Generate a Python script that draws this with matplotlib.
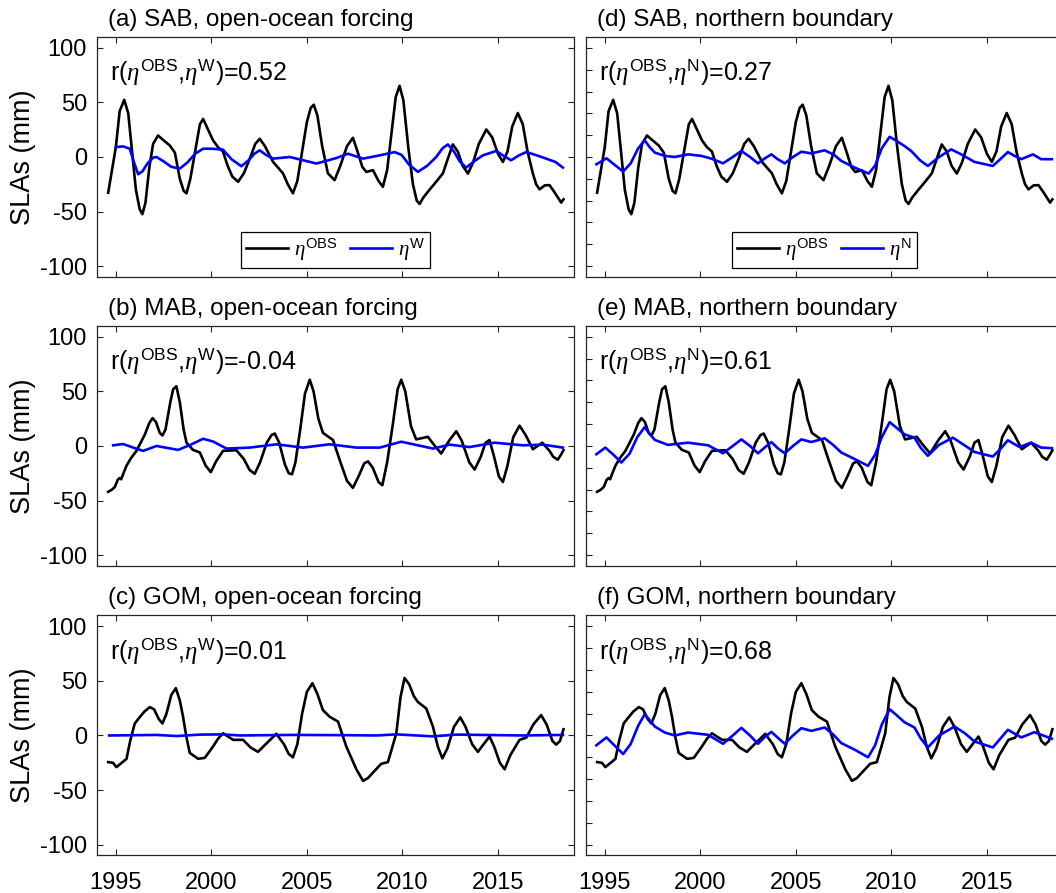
#!/usr/bin/env python3
'''SLA panels: observed vs open-ocean (W) and northern boundary (N) forcing'''
import matplotlib
matplotlib.use('Agg')
import matplotlib.pyplot as plt

plt.rcParams['font.family'] = ['Liberation Sans', 'DejaVu Sans']
plt.rcParams['mathtext.fontset'] = 'custom'
plt.rcParams['mathtext.rm'] = 'Liberation Sans'
plt.rcParams['mathtext.it'] = 'Liberation Serif:italic'
plt.rcParams['mathtext.bf'] = 'Liberation Sans:bold'
plt.rcParams['axes.unicode_minus'] = False

# observed SLA (same curve in both columns)
sab_obs_t = [1994.60, 1995.00, 1995.20, 1995.44, 1995.65, 1995.85, 1996.05, 1996.25, 1996.39,
             1996.55, 1996.75, 1996.95, 1997.21, 1997.45, 1997.82, 1998.09, 1998.35, 1998.55,
             1998.70, 1998.90, 1999.15, 1999.40, 1999.57, 1999.75, 2000.09, 2000.35, 2000.61,
             2000.85, 2001.10, 2001.40, 2001.70, 2002.00, 2002.30, 2002.53, 2002.80, 2003.23,
             2003.75, 2004.00, 2004.27, 2004.50, 2004.75, 2005.00, 2005.20, 2005.36, 2005.55,
             2005.80, 2006.10, 2006.45, 2006.75, 2007.10, 2007.41, 2007.65, 2007.90, 2008.11,
             2008.46, 2008.75, 2008.98, 2009.20, 2009.45, 2009.65, 2009.85, 2010.05, 2010.30,
             2010.55, 2010.75, 2010.90, 2011.10, 2011.42, 2011.80, 2012.12, 2012.35, 2012.64,
             2012.90, 2013.15, 2013.43, 2013.70, 2014.00, 2014.39, 2014.70, 2015.00, 2015.26,
             2015.50, 2015.75, 2016.04, 2016.30, 2016.55, 2016.83, 2017.00, 2017.18, 2017.45,
             2017.70, 2017.95, 2018.31, 2018.43]
sab_obs = [-32.7, 9.0, 42.0, 52.4, 40.0, 5.0, -30.0, -48.0, -52.4,
           -42.0, -10.0, 12.0, 19.7, 16.0, 10.6, 4.0, -20.0, -31.0,
           -33.3, -20.0, 5.0, 30.0, 34.9, 28.0, 15.2, 9.0, 5.0,
           -8.0, -18.0, -22.7, -15.0, -2.0, 12.0, 16.7, 10.0, -4.5,
           -15.0, -25.0, -33.3, -22.0, 5.0, 32.0, 45.0, 47.9, 38.0,
           10.0, -15.0, -21.2, -8.0, 10.0, 17.6, 5.0, -9.0, -13.7,
           -12.1, -22.0, -27.3, -12.0, 25.0, 55.0, 65.2, 52.0, 10.0,
           -25.0, -40.0, -43.0, -37.0, -30.0, -22.0, -15.0, -3.0, 11.5,
           5.0, -8.0, -15.2, -5.0, 12.0, 25.2, 18.0, 3.0, -4.5,
           5.0, 28.0, 40.3, 30.0, 5.0, -15.2, -25.0, -29.7, -26.0,
           -25.8, -32.0, -41.8, -38.8]

mab_obs_t = [1994.60, 1994.80, 1994.95, 1995.10, 1995.20, 1995.28, 1995.40, 1995.56, 1995.80,
             1996.08, 1996.30, 1996.52, 1996.75, 1996.92, 1997.10, 1997.30, 1997.44, 1997.60,
             1997.85, 1998.00, 1998.17, 1998.35, 1998.55, 1998.70, 1999.04, 1999.40, 1999.70,
             1999.97, 2000.25, 2000.61, 2001.31, 2001.70, 2002.00, 2002.27, 2002.55, 2002.90,
             2003.15, 2003.32, 2003.55, 2003.85, 2004.05, 2004.22, 2004.40, 2004.65, 2004.90,
             2005.15, 2005.35, 2005.60, 2005.84, 2006.37, 2006.70, 2007.10, 2007.41, 2007.70,
             2008.00, 2008.20, 2008.45, 2008.75, 2008.95, 2009.20, 2009.50, 2009.75, 2009.94,
             2010.15, 2010.45, 2010.72, 2011.33, 2011.70, 2012.03, 2012.45, 2012.82, 2013.10,
             2013.50, 2013.78, 2014.10, 2014.35, 2014.56, 2014.80, 2015.05, 2015.26, 2015.50,
             2015.80, 2016.13, 2016.45, 2016.83, 2017.32, 2017.70, 2017.90, 2018.13, 2018.30,
             2018.43]
mab_obs = [-42.0, -40.0, -37.5, -31.0, -29.4, -30.5, -25.0, -18.0, -11.0,
           -4.5, 3.0, 10.5, 21.0, 25.5, 22.0, 12.0, 9.6, 15.0,
           40.0, 52.0, 54.7, 40.0, 15.0, 3.0, -3.6, -6.0, -18.0,
           -24.0, -14.0, -4.5, -3.9, -12.0, -22.0, -25.5, -15.0, 3.0,
           10.0, 11.4, 3.0, -17.0, -25.0, -26.0, -15.0, 15.0, 48.0,
           60.7, 50.0, 25.0, 12.0, 5.4, -12.0, -32.0, -38.4, -28.0,
           -16.0, -14.1, -20.0, -33.0, -36.0, -15.0, 20.0, 52.0, 60.7,
           50.0, 18.0, 6.0, 8.4, 0.0, -6.9, 5.0, 13.5, 5.0,
           -15.0, -21.6, -10.0, 3.0, 5.4, -10.0, -28.0, -33.0, -18.0,
           8.0, 18.6, 10.0, -3.0, 3.0, -4.5, -10.0, -12.6, -8.0,
           -3.9]

gom_obs_t = [1994.60, 1994.85, 1995.03, 1995.38, 1995.56, 1995.75, 1995.99, 1996.26, 1996.50,
             1996.78, 1997.00, 1997.25, 1997.44, 1997.65, 1997.90, 1998.14, 1998.35, 1998.52,
             1998.70, 1998.87, 1999.31, 1999.66, 2000.09, 2000.35, 2000.61, 2001.14, 2001.66,
             2002.05, 2002.44, 2002.90, 2003.40, 2003.80, 2004.05, 2004.27, 2004.50, 2004.75,
             2005.00, 2005.29, 2005.55, 2005.84, 2006.19, 2006.63, 2007.06, 2007.59, 2007.94,
             2008.20, 2008.46, 2008.89, 2009.24, 2009.45, 2009.68, 2009.90, 2010.11, 2010.35,
             2010.60, 2010.81, 2011.25, 2011.60, 2011.85, 2012.09, 2012.35, 2012.70, 2013.03,
             2013.30, 2013.65, 2013.95, 2014.25, 2014.56, 2014.80, 2015.10, 2015.35, 2015.65,
             2016.13, 2016.48, 2016.85, 2017.26, 2017.55, 2017.85, 2018.05, 2018.25, 2018.43]
gom_obs = [-24.4, -25.0, -29.0, -24.0, -21.4, -5.0, 11.0, 17.0, 22.0,
           26.0, 24.0, 15.0, 11.0, 20.0, 37.0, 43.4, 32.0, 17.0,
           -2.0, -16.0, -21.4, -20.5, -10.0, -3.0, 2.0, -4.0, -4.0,
           -11.0, -15.0, -7.0, 1.5, -8.0, -17.0, -20.0, -8.0, 20.0,
           40.0, 47.9, 38.0, 23.2, 17.2, 12.7, -10.0, -31.0, -41.6,
           -39.0, -34.0, -26.0, -24.4, -12.0, 2.0, 35.0, 52.7, 47.0,
           36.0, 30.7, 24.7, 8.0, -10.0, -21.0, -12.0, 8.0, 16.6,
           8.0, -8.0, -15.0, -8.0, -1.0, -10.0, -25.0, -31.0, -18.0,
           -4.0, -2.0, 10.0, 18.7, 10.0, -5.0, -8.4, -5.0, 5.7]

# open-ocean forcing (W)
sab_w_t = [1995.00, 1995.38, 1995.73, 1995.95, 1996.17, 1996.40, 1996.65, 1996.95, 1997.13,
           1997.50, 1997.90, 1998.35, 1998.75, 1999.15, 1999.57, 2000.10, 2000.61, 2001.05,
           2001.57, 2001.95, 2002.25, 2002.53, 2002.85, 2003.23, 2004.10, 2005.50, 2006.54,
           2007.15, 2007.94, 2008.81, 2009.59, 2009.95, 2010.35, 2010.81, 2011.30, 2011.77,
           2012.10, 2012.38, 2012.70, 2013.00, 2013.34, 2013.75, 2014.21, 2014.91, 2015.30,
           2015.69, 2016.10, 2016.48, 2016.95, 2017.52, 2018.00, 2018.40]
sab_w = [9.1, 9.7, 7.6, -5.0, -15.8, -13.0, -6.0, -0.6, 0.0,
         -4.0, -9.0, -10.6, -5.0, 3.0, 7.6, 7.5, 6.7, -2.0,
         -8.5, -3.0, 3.0, 6.1, 2.0, -1.5, 0.0, -6.0, -1.0,
         3.0, -1.5, 1.5, 4.5, 2.0, -7.0, -13.6, -8.0, 0.0,
         8.0, 11.5, 5.0, -4.0, -9.7, -4.0, 1.5, 5.5, 1.0,
         -3.0, 1.5, 4.5, 2.0, -1.5, -4.5, -9.7]

mab_w_t = [1994.86, 1995.38, 1995.91, 1996.43, 1997.13, 1998.26, 1998.90, 1999.57, 2000.10,
           2000.79, 2002.00, 2003.40, 2004.80, 2006.19, 2007.59, 2008.81, 2009.94, 2011.60,
           2012.47, 2013.51, 2014.82, 2016.30, 2017.35, 2018.40]
mab_w = [0.6, 1.8, -1.5, -4.5, 0.0, -3.6, 1.0, 6.6, 4.0,
         -2.4, -1.5, 1.5, -1.5, 1.5, -1.5, -1.5, 3.9, -2.4,
         1.2, -1.0, 3.0, 0.6, 1.2, -1.5]

gom_w_t = [1994.65, 1997.13, 1998.18, 1999.40, 2000.61, 2001.48, 2004.10, 2006.89, 2008.63,
           2009.68, 2011.60, 2012.82, 2016.30, 2018.40]
gom_w = [0.0, 0.5, -0.5, 0.8, 1.0, 0.0, 0.5, 0.3, 0.0,
         1.0, -0.8, 0.8, 0.0, 0.5]

# northern boundary (N)
sab_n_t = [1994.56, 1995.09, 1995.50, 1995.96, 1996.35, 1996.75, 1997.09, 1997.35, 1997.62,
           1998.14, 1998.66, 1999.36, 2000.06, 2000.58, 2001.19, 2001.70, 2002.15, 2002.60,
           2003.02, 2003.40, 2003.72, 2004.05, 2004.42, 2004.85, 2005.29, 2005.81, 2006.51,
           2007.00, 2007.38, 2008.08, 2008.81, 2009.15, 2009.50, 2009.91, 2010.25, 2010.69,
           2011.04, 2011.50, 2011.91, 2012.50, 2013.13, 2013.66, 2014.35, 2015.31, 2015.70,
           2016.10, 2016.45, 2016.80, 2017.41, 2017.84, 2018.40]
sab_n = [-6.7, -1.2, -7.0, -13.3, -6.0, 8.0, 15.2, 9.0, 4.0,
         1.0, 0.0, 2.4, 1.0, -1.5, -5.8, 0.0, 5.5, 0.0,
         -5.8, -1.0, 2.4, -2.0, -5.8, 0.0, 4.8, 3.3, 6.1,
         2.0, -3.6, -9.7, -15.2, -8.0, 8.0, 18.5, 15.0, 10.0,
         5.5, -3.0, -8.2, 0.0, 7.0, 2.4, -4.5, -8.2, -2.0,
         4.5, 1.0, -2.0, 2.4, -2.0, -2.0]

mab_n_t = [1994.56, 1995.03, 1995.45, 1995.87, 1996.30, 1996.70, 1997.09, 1997.35, 1997.62,
           1998.31, 1999.36, 2000.41, 2001.19, 2001.70, 2002.15, 2002.60, 2003.02, 2003.40,
           2003.72, 2004.05, 2004.42, 2004.85, 2005.29, 2005.81, 2006.51, 2006.95, 2007.38,
           2008.08, 2008.78, 2009.15, 2009.50, 2009.91, 2010.25, 2010.69, 2011.21, 2011.55,
           2011.91, 2012.50, 2013.22, 2013.83, 2014.35, 2015.31, 2015.70, 2016.10, 2016.71,
           2017.32, 2017.84, 2018.40]
mab_n = [-7.6, -1.5, -8.0, -15.2, -7.0, 8.0, 17.3, 11.0, 5.5,
         1.0, 3.0, 0.6, -6.7, 0.0, 6.0, 0.0, -6.7, -1.0,
         3.6, -2.0, -6.7, 0.0, 6.0, 3.6, 7.0, 1.0, -6.0,
         -12.0, -18.2, -8.0, 8.0, 21.8, 17.0, 10.6, 7.6, -2.0,
         -9.0, 1.0, 7.6, 0.6, -5.5, -9.7, -3.0, 5.2, -1.0,
         3.0, -1.5, -2.0]

gom_n_t = [1994.56, 1995.09, 1995.50, 1995.96, 1996.35, 1996.75, 1997.09, 1997.35, 1997.62,
           1998.14, 1998.66, 1999.36, 2000.41, 2001.19, 2001.70, 2002.15, 2002.60, 2003.02,
           2003.40, 2003.72, 2004.05, 2004.42, 2004.85, 2005.29, 2005.81, 2006.51, 2006.95,
           2007.38, 2008.08, 2008.78, 2009.15, 2009.50, 2009.91, 2010.25, 2010.69, 2011.21,
           2011.55, 2011.91, 2012.50, 2013.31, 2013.85, 2014.35, 2015.31, 2015.70, 2016.10,
           2016.80, 2017.49, 2018.40]
gom_n = [-9.0, -1.8, -9.0, -17.0, -8.0, 9.0, 19.4, 14.0, 8.2,
         2.7, 0.0, 2.7, 0.6, -7.6, 0.0, 7.0, 0.0, -7.6,
         -1.0, 3.3, -2.0, -7.6, 0.0, 6.7, 4.2, 7.3, 1.0,
         -7.0, -13.0, -20.0, -9.0, 10.0, 24.0, 19.0, 12.1, 7.3,
         -3.0, -11.0, 0.0, 8.2, 2.0, -5.5, -11.0, -3.0, 5.2,
         -1.8, 3.0, -3.0]

titles = ['(a) SAB, open-ocean forcing', '(b) MAB, open-ocean forcing', '(c) GOM, open-ocean forcing',
          '(d) SAB, northern boundary', '(e) MAB, northern boundary', '(f) GOM, northern boundary']
corr = ['0.52', '-0.04', '0.01', '0.27', '0.61', '0.68']
years = [1995, 2000, 2005, 2010, 2015]

FS = 17
SPINE = '#262626'


def setup(ax, left):
    ax.set_xlim(1994, 2019)
    ax.set_ylim(-110, 110)
    ax.set_xticks(years)
    if left:
        ax.set_yticks([-100, -50, 0, 50, 100])
        ax.set_ylabel('SLAs (mm)', fontsize=19.5, labelpad=3)
    else:
        ax.set_yticks(range(-100, 101, 20))
        ax.set_yticklabels([])
    ax.tick_params(direction='in', length=4, width=0.8, color=SPINE,
                   top=True, right=True, labelsize=FS, pad=7)
    ax.tick_params(axis='x', pad=12)
    for s in ax.spines.values():
        s.set_color(SPINE)
        s.set_linewidth(0.9)


def main():
    fig = plt.figure(figsize=(10.56, 8.93), dpi=100)
    xs = [0.0916, 0.5546]
    ys = [0.6898, 0.3662, 0.0420]
    w, h = 0.4523, 0.2688
    obs = [(sab_obs_t, sab_obs), (mab_obs_t, mab_obs), (gom_obs_t, gom_obs)]
    model = [[(sab_w_t, sab_w), (mab_w_t, mab_w), (gom_w_t, gom_w)],
             [(sab_n_t, sab_n), (mab_n_t, mab_n), (gom_n_t, gom_n)]]
    tags = ['W', 'N']
    k = 0
    for col in range(2):
        for row in range(3):
            ax = fig.add_axes([xs[col], ys[row], w, h])
            setup(ax, col == 0)
            tag = tags[col]
            l1, = ax.plot(obs[row][0], obs[row][1], color='black', lw=1.9,
                          label=r'$\eta^{\mathrm{OBS}}$')
            l2, = ax.plot(model[col][row][0], model[col][row][1], color='#0000ff', lw=1.9,
                          label=r'$\eta^{\mathrm{%s}}$' % tag)
            if row < 2:
                ax.set_xticklabels([])
            ax.text(0.023, 1.025, titles[k], transform=ax.transAxes, fontsize=17.5,
                    ha='left', va='bottom')
            ax.text(0.028, 0.82, r'r($\eta^{\mathrm{OBS}}$,$\eta^{\mathrm{%s}}$)=%s' % (tag, corr[k]),
                    transform=ax.transAxes, fontsize=18, ha='left', va='baseline')
            if row == 0:
                leg = ax.legend(handles=[l1, l2], loc='lower center', ncol=2, fontsize=15,
                                frameon=True, fancybox=False, framealpha=1,
                                edgecolor='black', handlelength=2.0, handletextpad=0.3,
                                columnspacing=0.6, borderpad=0.25, borderaxespad=0,
                                bbox_to_anchor=(0.5, 0.037))
                leg.get_frame().set_linewidth(0.9)
            k += 1
    fig.savefig('out.png', dpi=100)
    plt.close(fig)


if __name__ == "__main__":
    main()
